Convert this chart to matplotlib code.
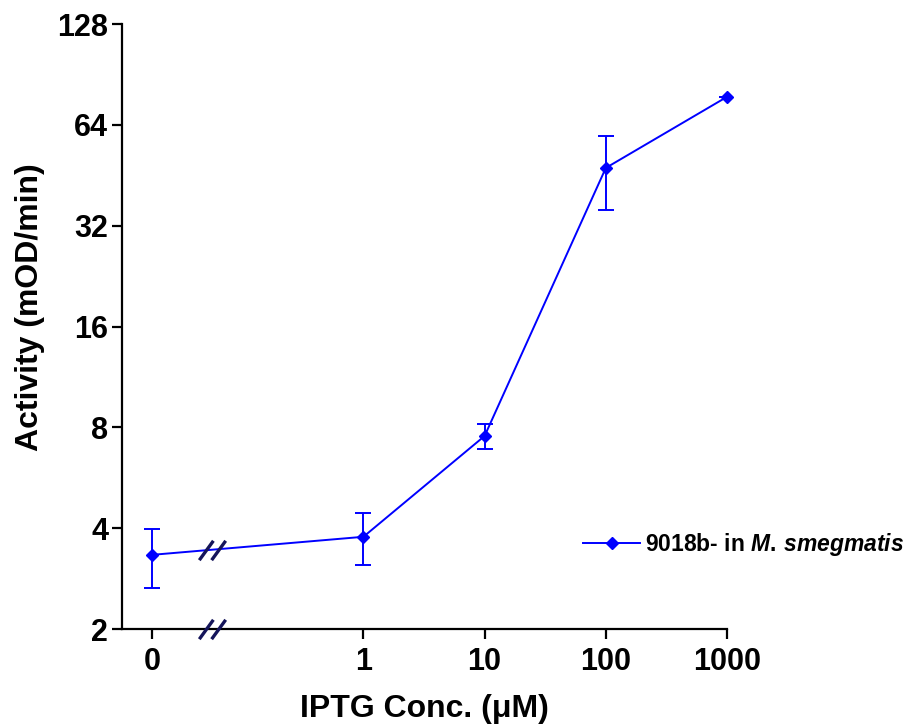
import numpy as np
import matplotlib
matplotlib.use("Agg")
import matplotlib.pyplot as plt
from matplotlib.path import Path

plt.rcParams['font.family'] = ['Liberation Sans', 'DejaVu Sans']
plt.rcParams['font.weight'] = 'bold'
plt.rcParams['mathtext.fontset'] = 'custom'
plt.rcParams['mathtext.it'] = 'Liberation Sans:bold:italic'
plt.rcParams['mathtext.rm'] = 'Liberation Sans:bold'

# data
conc = [0, 1, 10, 100, 1000]
activity = [3.33, 3.77, 7.54, 47.6, 77.6]
err_low = [2.65, 3.10, 6.90, 35.7, 77.6]
err_high = [3.98, 4.44, 8.19, 59.3, 77.6]
x_tick_labels = ["0", "1", "10", "100", "1000"]
y_ticks = [2, 4, 8, 16, 32, 64, 128]
label = r"9018b- in $\mathit{M.\,smegmatis}$"

ZERO_POS = -1.744   # position of the "0" concentration on the log10 axis
BREAK_POS = -1.25

def xpos(c):
    return np.array([ZERO_POS if v == 0 else np.log10(v) for v in c])

fig = plt.figure(figsize=(9.09, 7.26), dpi=100)
ax = fig.add_axes([0.1342, 0.1336, 0.6656, 0.8333])

x = xpos(conc)
y = np.array(activity)
yerr = np.array([y - np.array(err_low), np.array(err_high) - y])
ax.errorbar(x, y, yerr=yerr, fmt='none', ecolor='#0000FF',
            capsize=6, capthick=1.4, elinewidth=1.4, zorder=3)
ax.plot(x, y, color='#0000FF', lw=1.4, marker='D', ms=6.5, label=label,
        zorder=3, clip_on=False)

ax.set_yscale('log', base=2)
ax.set_ylim(2, 128)
ax.set_xlim(-1.992, 3)
ax.set_yticks(y_ticks)
ax.set_yticklabels([str(t) for t in y_ticks])
ax.minorticks_off()
ax.set_xticks(x)
ax.set_xticklabels(x_tick_labels)

for s in ['top', 'right']:
    ax.spines[s].set_visible(False)
for s in ['left', 'bottom']:
    ax.spines[s].set_linewidth(1.6)
ax.tick_params(axis='both', which='major', direction='out', length=7, width=1.6,
               labelsize=22, pad=3)
ax.tick_params(axis='x', pad=6)

ax.set_xlabel(u"IPTG Conc. (\u03bcM)", fontsize=23, fontweight='bold', labelpad=12)
ax.set_ylabel("Activity (mOD/min)", fontsize=23, fontweight='bold')
ax.yaxis.set_label_coords(-0.127, 0.532)

# axis break marks
brk = Path([(-0.75, -0.55), (0.05, 0.55), (-0.05, -0.55), (0.75, 0.55)],
           [Path.MOVETO, Path.LINETO, Path.MOVETO, Path.LINETO])
ly = 2 ** np.interp(BREAK_POS, x[:2], np.log2(y[:2]))
ax.plot([BREAK_POS, BREAK_POS], [2, ly], linestyle='none', marker=brk, ms=19,
        mec='#14145a', mew=2.4, clip_on=False, zorder=4)

leg = ax.legend(loc='center left', bbox_to_anchor=(0.728, 0.139), frameon=False,
                fontsize=16.5, handlelength=2.5, handletextpad=0.2)

fig.savefig("out.png", dpi=100)
